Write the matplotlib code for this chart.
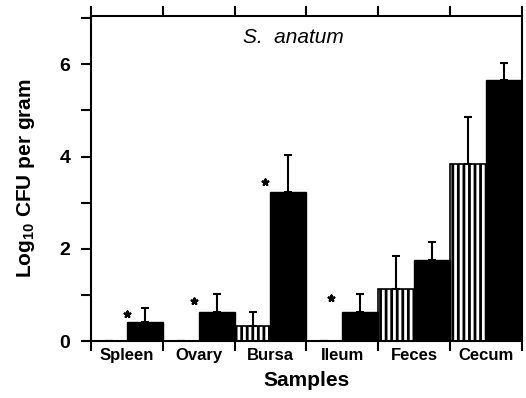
import numpy as np
import matplotlib
matplotlib.use("Agg")
import matplotlib.pyplot as plt
from matplotlib.ticker import MultipleLocator

plt.rcParams['font.family'] = ['Liberation Sans', 'DejaVu Sans']
plt.rcParams['hatch.linewidth'] = 2.0
plt.rcParams['mathtext.fontset'] = 'custom'
plt.rcParams['mathtext.bf'] = 'Liberation Sans:bold'
plt.rcParams['mathtext.rm'] = 'Liberation Sans'

samples = ["Spleen", "Ovary", "Bursa", "Ileum", "Feces", "Cecum"]
hatched_vals = [0.0, 0.0, 0.33, 0.0, 1.14, 3.85]
hatched_err = [0.0, 0.0, 0.29, 0.0, 0.71, 1.01]
black_vals = [0.41, 0.62, 3.24, 0.64, 1.75, 5.66]
black_err = [0.30, 0.40, 0.80, 0.39, 0.40, 0.38]
star_x = [0.5, 1.43, 2.42, 3.34]
star_y = [0.59, 0.87, 3.46, 0.94]

fig = plt.figure(figsize=(5.26, 3.98), dpi=100)
ax = fig.add_axes([0.173, 0.143, 0.819, 0.817])

idx = np.arange(len(samples))
w = 0.5
# hatched bars (left half of each category)
ax.bar(idx + 0.25, hatched_vals, width=w, color="white", edgecolor="black",
       hatch="|||", linewidth=1.2, zorder=2)
ax.errorbar(idx + 0.25, hatched_vals,
            yerr=[np.zeros(len(samples)), hatched_err],
            fmt="none", ecolor="black", elinewidth=1.5, capsize=3, capthick=1.5, zorder=3)
# black bars (right half)
ax.bar(idx + 0.75, black_vals, width=w, color="black", edgecolor="black", zorder=2)
ax.errorbar(idx + 0.75, black_vals,
            yerr=[np.zeros(len(samples)), black_err],
            fmt="none", ecolor="black", elinewidth=1.5, capsize=3, capthick=1.5, zorder=3)

ax.scatter(star_x, star_y, marker=(5, 2, 0), s=18, color="black", linewidths=1.6, zorder=4)

ax.set_xlim(0, 6)
ax.set_ylim(0, 7.05)

# boundaries as major ticks, names as minor ticks
ax.set_xticks(np.arange(0, 7))
ax.set_xticklabels([])
ax.set_xticks(idx + 0.5, minor=True)
ax.set_xticklabels(samples, minor=True, fontsize=12, fontweight="bold")
ax.tick_params(axis="x", which="minor", length=0, pad=5)
ax.tick_params(axis="x", which="major", direction="out", length=7, width=1.5,
               top=True, bottom=True)

ax.yaxis.set_major_locator(MultipleLocator(2))
ax.yaxis.set_minor_locator(MultipleLocator(1))
ax.tick_params(axis="y", which="major", direction="out", length=7, width=1.5,
               labelsize=14, pad=8)
ax.tick_params(axis="y", which="minor", direction="out", length=7, width=1.5)
for lbl in ax.get_yticklabels():
    lbl.set_fontweight("bold")

for s in ax.spines.values():
    s.set_linewidth(1.5)

ax.set_xlabel("Samples", fontsize=15, fontweight="bold", labelpad=6)
ax.set_ylabel("Log$_{\\mathbf{10}}$ CFU per gram", fontsize=15, fontweight="bold", labelpad=16)
ax.text(0.47, 0.935, "S.  anatum", transform=ax.transAxes, ha="center", va="center",
        fontsize=15, fontstyle="italic")

fig.savefig("out.png", dpi=100)
